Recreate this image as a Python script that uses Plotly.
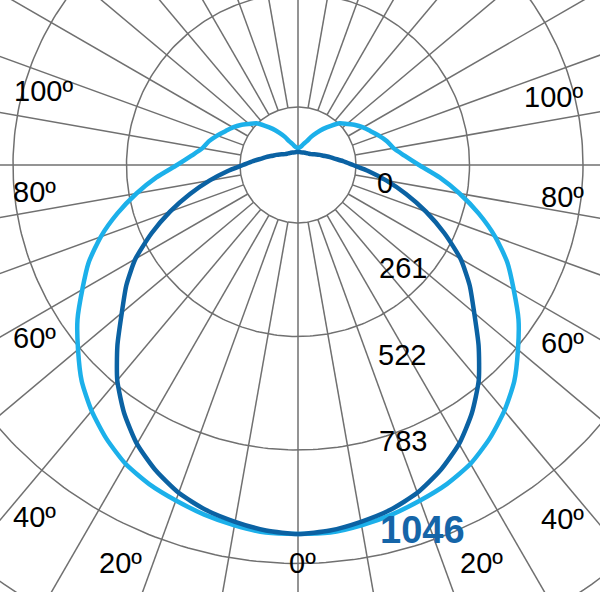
import numpy as np
import plotly.graph_objects as go

# ============================================================================
# Datos: curva fotométrica (cd/klm), ángulo gamma desde el nadir
# ============================================================================

gamma = [0, 5, 10, 15, 20, 25, 30, 35, 40, 45, 50, 55, 60, 65, 70, 75, 80, 85, 90,
         95, 100, 105, 110, 115, 120, 125, 130, 135, 140, 145, 150, 155, 160, 165,
         170, 175, 180]

# plano C0-C180 (azul oscuro)
plano_c0 = [1046, 1040, 1027, 1012, 989, 955, 913, 859, 797, 724, 652, 594, 532, 458,
            386, 317, 255, 201, 156, 128, 105, 90, 77, 68, 60, 53, 48, 45, 43, 41, 40,
            39, 38, 37, 37, 37, 37]

# plano C90-C270 (azul claro)
plano_c90 = [1046, 1046, 1037, 1026, 1012, 998, 978, 947, 910, 867, 814, 763, 706, 655,
             595, 530, 465, 403, 343, 303, 275, 261, 244, 227, 213, 198, 181, 167, 145,
             125, 105, 88, 71, 62, 54, 50, 48]

escala_labels = ["0", "261", "522", "783"]
valor_max = "1046"

angulo_labels = ["100º", "80º", "60º", "40º", "20º", "0º", "20º", "40º", "60º", "80º", "100º"]

# ============================================================================
# Geometria de la rejilla (en cd, 1 px = 2.835 cd)
# ============================================================================

PX = 1046 / 369.0
cx, cy = 298, 165
W, H = 600, 592
anillos = [58 * PX, 171.5 * PX, 285 * PX, 398.5 * PX, 512 * PX, 625.5 * PX]
r_lejos = 900 * PX

fig = go.Figure()

# anillos
t = np.linspace(0, 2 * np.pi, 361)
gx, gy = [], []
for r in anillos:
    gx += list(r * np.cos(t)) + [None]
    gy += list(r * np.sin(t)) + [None]

# radios cada 10 grados, desde el anillo interior
for a in range(0, 360, 10):
    ar = np.radians(a)
    r0 = 0 if a in (0, 180) else anillos[0]
    gx += [r0 * np.sin(ar), r_lejos * np.sin(ar), None]
    gy += [-r0 * np.cos(ar), -r_lejos * np.cos(ar), None]

fig.add_trace(go.Scatter(x=gx, y=gy, mode='lines',
                         line=dict(color='#707070', width=1.5),
                         hoverinfo='skip'))


def curva(valores):
    g = np.array(gamma, dtype=float)
    v = np.array(valores, dtype=float)
    ang = np.radians(np.concatenate([-g[::-1], g[1:]]))
    rr = np.concatenate([v[::-1], v[1:]])
    return rr * np.sin(ang), -rr * np.cos(ang)


x1, y1 = curva(plano_c90)
fig.add_trace(go.Scatter(x=x1, y=y1, mode='lines', name='C90-C270',
                         line=dict(color='#1cb0ea', width=4.5, shape='spline', smoothing=0.6)))

x2, y2 = curva(plano_c0)
fig.add_trace(go.Scatter(x=x2, y=y2, mode='lines', name='C0-C180',
                         line=dict(color='#0b62a3', width=4.5, shape='spline', smoothing=0.6)))

# ============================================================================
# Textos
# ============================================================================

fuente = 'Arial, Liberation Sans, sans-serif'

escala_pos = [(385, 183), (403, 268), (402, 355), (403, 441)]
for txt, (px, py) in zip(escala_labels, escala_pos):
    fig.add_annotation(x=px / W, y=1 - py / H, xref='paper', yref='paper', text=txt,
                       xanchor='center', yanchor='middle', showarrow=False,
                       font=dict(family=fuente, size=29, color='black'))

fig.add_annotation(x=422 / W, y=1 - 530 / H, xref='paper', yref='paper',
                   text='<b>' + valor_max + '</b>', xanchor='center', yanchor='middle',
                   showarrow=False, font=dict(family=fuente, size=38, color='#1565a8'))

angulo_pos = [(43, 91), (34, 192), (34, 338), (34, 517), (120, 563), (302, 563),
              (481, 563), (562, 519), (562, 343), (562, 197), (553, 97)]
for txt, (px, py) in zip(angulo_labels, angulo_pos):
    fig.add_annotation(x=px / W, y=1 - py / H, xref='paper', yref='paper', text=txt,
                       xanchor='center', yanchor='middle', showarrow=False,
                       font=dict(family=fuente, size=29, color='black'))

fig.update_layout(
    width=W, height=H,
    margin=dict(l=0, r=0, t=0, b=0),
    paper_bgcolor='white', plot_bgcolor='white',
    showlegend=False,
    xaxis=dict(range=[-cx * PX, (W - cx) * PX], visible=False, fixedrange=True),
    yaxis=dict(range=[-(H - cy) * PX, cy * PX], visible=False, fixedrange=True),
)

# sin margen del body para que la figura ocupe toda la ventana
fig.write_html("out.html", config={'displayModeBar': False},
               post_script="document.body.style.margin = '0';")
